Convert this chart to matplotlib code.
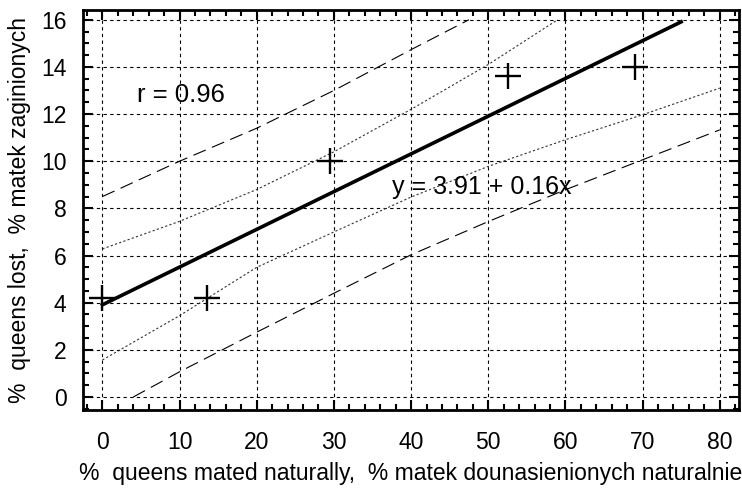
import numpy as np
import matplotlib.pyplot as plt
from matplotlib.ticker import MultipleLocator

plt.rcParams['font.family'] = ['Liberation Sans', 'DejaVu Sans']

# measured points (% mated naturally, % lost)
x_pts = [0, 13.5, 29.5, 52.5, 69]
y_pts = [4.2, 4.2, 10.0, 13.6, 14.0]

# regression y = a + b x
a, b = 3.91, 0.16
x_fit = [0, 75]

# confidence bands (dotted)
ci_up_x = [0, 10, 20, 30, 40, 50, 59]
ci_up_y = [6.28, 7.45, 8.8, 10.4, 12.2, 14.1, 16.0]
ci_lo_x = [0, 10, 20, 30, 40, 50, 60, 70, 80]
ci_lo_y = [1.57, 3.45, 5.5, 7.0, 8.48, 9.78, 10.91, 11.97, 13.1]

# prediction bands (dashed)
pi_up_x = [0, 10, 20, 30, 40, 47.5]
pi_up_y = [8.5, 10.0, 11.4, 13.0, 14.73, 16.0]
pi_lo_x = [4, 10, 20, 30, 40, 50, 60, 70, 80]
pi_lo_y = [0.0, 1.07, 2.75, 4.4, 6.03, 7.44, 8.79, 10.06, 11.33]

fig = plt.figure(figsize=(7.42, 4.91), dpi=100)
ax = fig.add_axes([0.112, 0.165, 0.884, 0.815])

ax.set_xlim(-2.5, 82.5)
ax.set_ylim(-0.55, 16.42)

ax.grid(True, color='black', linestyle=(0, (3, 3)), linewidth=0.8)

ax.plot(ci_up_x, ci_up_y, color='#333333', linestyle=(0, (2, 2)), linewidth=0.8)
ax.plot(ci_lo_x, ci_lo_y, color='#333333', linestyle=(0, (2, 2)), linewidth=0.8)
ax.plot(pi_up_x, pi_up_y, color='black', linestyle=(0, (12, 6)), linewidth=0.8)
ax.plot(pi_lo_x, pi_lo_y, color='black', linestyle=(0, (12, 6)), linewidth=0.8)

xf = np.array(x_fit)
ax.plot(xf, a + b * xf, color='black', linewidth=2.6)

ax.plot(x_pts, y_pts, linestyle='none', marker='+', markersize=19,
        markeredgewidth=1.7, color='black')

ax.text(4.5, 12.8, 'r = 0.96', fontsize=18.5, va='center')
ax.text(37.5, 8.9, 'y = 3.91 + 0.16x', fontsize=18, va='center')

ax.xaxis.set_major_locator(MultipleLocator(10))
ax.xaxis.set_minor_locator(MultipleLocator(2))
ax.yaxis.set_major_locator(MultipleLocator(2))
ax.yaxis.set_minor_locator(MultipleLocator(0.5))
ax.tick_params(which='both', direction='in', top=True, right=True, width=1.5)
ax.tick_params(which='major', length=7, labelsize=16.5)
ax.tick_params(axis='x', which='major', pad=15)
ax.tick_params(axis='y', which='major', pad=12)
ax.tick_params(which='minor', length=4)

for s in ax.spines.values():
    s.set_linewidth(2)

ax.set_xlabel('%  queens mated naturally,  % matek dounasienionych naturalnie',
              fontsize=16.5, labelpad=6)
ax.set_ylabel('%  queens lost,  % matek zaginionych', fontsize=16.5, labelpad=7)

fig.savefig('out.png', dpi=100)
